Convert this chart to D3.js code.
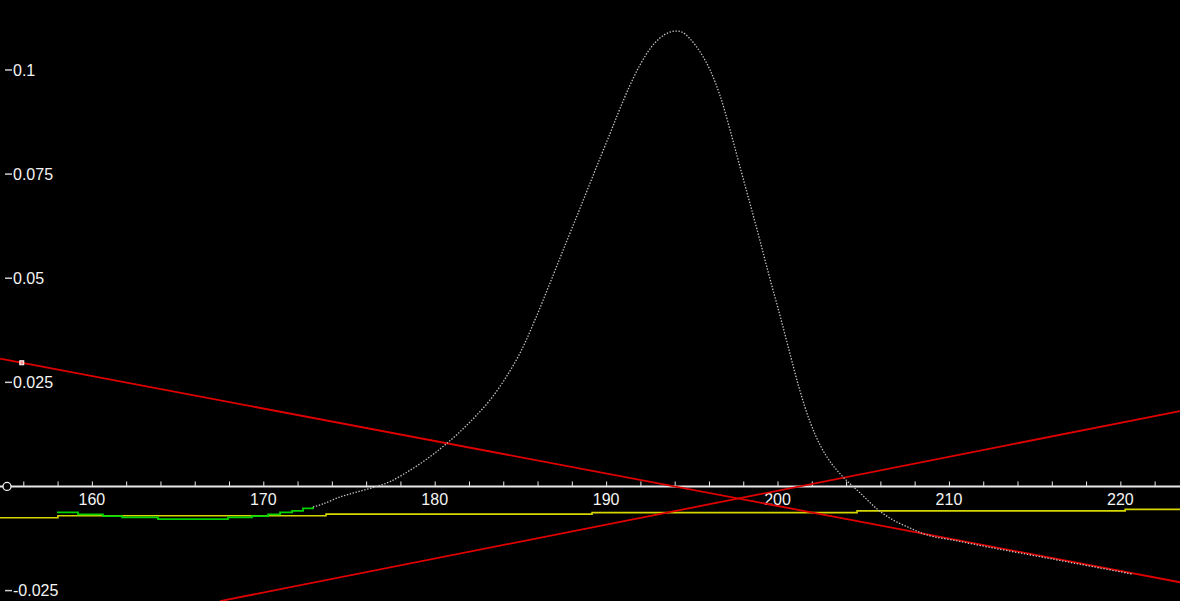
<!DOCTYPE html>
<html>
<head>
<meta charset="utf-8">
<script src="https://cdn.jsdelivr.net/npm/d3@7/dist/d3.min.js"></script>
<style>
  html, body { margin: 0; padding: 0; background: #000; }
  svg { display: block; }
  text { font-family: "Liberation Sans", Arial, sans-serif; font-size: 16px; fill: #f4f4f4; }
</style>
</head>
<body>
<svg id="chart" width="1180" height="601"></svg>
<script>
// Visible window of the trace
const xDomain = [154.64, 223.48];
const yDomain = [-0.0275, 0.1168];

// Axis ticks
const xTickValues = [156, 158, 160, 162, 164, 166, 168, 170, 172, 174, 176, 178, 180, 182, 184, 186, 188, 190,
                     192, 194, 196, 198, 200, 202, 204, 206, 208, 210, 212, 214, 216, 218, 220, 222];
const xTickLabels = [160, 170, 180, 190, 200, 210, 220];
const yTickValues = [0.1, 0.075, 0.05, 0.025, -0.025];
const yTickLabels = ["0.1", "0.075", "0.05", "0.025", "-0.025"];

// Peak signal (x, y)
const peakX = [172.90, 173.48, 174.48, 175.47, 176.52, 177.39, 178.56, 179.73, 180.60, 181.48, 182.35, 183.23,
               184.10, 184.98, 185.85, 186.73, 187.60, 188.48, 189.35, 190.23, 190.81, 191.40, 191.98, 192.56,
               193.15, 193.61, 194.02, 194.43, 194.90, 195.48, 196.06, 196.65, 197.23, 197.81, 198.40, 198.98,
               199.56, 200.15, 200.73, 201.31, 201.90, 202.48, 203.06, 203.82, 204.82, 205.81, 206.74, 207.73,
               208.72, 210.65, 212.57, 214.56, 216.48, 218.41, 220.68];
const peakY = [-0.00492, -0.00420, -0.00252, -0.00132, -0.00012, 0.00115, 0.00389, 0.00716, 0.00997, 0.01316,
               0.01669, 0.02077, 0.02582, 0.03206, 0.03999, 0.04887, 0.05785, 0.06681, 0.07579, 0.08477,
               0.09073, 0.09642, 0.10122, 0.10507, 0.10771, 0.10891, 0.10934, 0.10910, 0.10747, 0.10435,
               0.10002, 0.09378, 0.08561, 0.07673, 0.06784, 0.05896, 0.04983, 0.04095, 0.03182, 0.02293,
               0.01549, 0.00997, 0.00600, 0.00228, -0.00156, -0.00540, -0.00805, -0.00997, -0.01165,
               -0.01321, -0.01477, -0.01628, -0.01777, -0.01926, -0.02101];

// Highlighted leading segment (stepped)
const greenX = [157.97, 159.19, 160.65, 161.76, 163.86, 167.94, 169.34, 170.28, 170.98, 171.68, 172.32, 172.90];
const greenY = [-0.00622, -0.00670, -0.00711, -0.00742, -0.00783, -0.00742, -0.00711, -0.00670, -0.00622,
                -0.00584, -0.00526, -0.00492];

// Baseline (stepped)
const baseX = [154.64, 158.02, 173.66, 189.18, 204.64, 220.28, 223.48];
const baseY = [-0.00752, -0.00704, -0.00663, -0.00627, -0.00586, -0.00550, -0.00550];

// Tangent lines
const tangentDownX = [154.64, 223.48];
const tangentDownY = [0.0307, -0.0230];
const tangentUpX = [167.48, 223.48];
const tangentUpY = [-0.02752, 0.0181];

// Anchor point on the falling tangent
const anchorX = [155.91];
const anchorY = [0.0297];

const W = 1180, H = 601;
const svg = d3.select("#chart");
svg.append("rect").attr("width", W).attr("height", H).attr("fill", "#000");

const x = d3.scaleLinear().domain(xDomain).range([0, W]);
const y = d3.scaleLinear().domain(yDomain).range([H, 0]);

const zip = (xs, ys) => xs.map((v, i) => [v, ys[i]]);
const line = d3.line().x(d => x(d[0])).y(d => y(d[1]));
const smoothLine = d3.line().x(d => x(d[0])).y(d => y(d[1])).curve(d3.curveCatmullRom.alpha(0.5));
const stepLine = d3.line().x(d => x(d[0])).y(d => y(d[1])).curve(d3.curveStepAfter);

// X axis along zero
const xAxis = d3.axisTop(x)
  .tickValues(xTickValues)
  .tickSize(5)
  .tickFormat("");
const gx = svg.append("g").attr("transform", `translate(0,${y(0)})`).call(xAxis);
gx.select(".domain").remove();
gx.selectAll(".tick line").attr("stroke", "#e8e8e8").attr("stroke-width", 1);
svg.append("line")
  .attr("x1", 0).attr("x2", W)
  .attr("y1", y(0)).attr("y2", y(0))
  .attr("stroke", "#e8e8e8").attr("stroke-width", 2);

svg.append("g").selectAll("text")
  .data(xTickLabels)
  .join("text")
  .attr("x", d => x(d))
  .attr("y", y(0) + 19)
  .attr("text-anchor", "middle")
  .text(d => d);

// Y axis ticks on the left edge
const gy = svg.append("g");
gy.selectAll("line")
  .data(yTickValues)
  .join("line")
  .attr("x1", 5).attr("x2", 12)
  .attr("y1", d => y(d)).attr("y2", d => y(d))
  .attr("stroke", "#cfcfcf").attr("stroke-width", 1.5);
gy.selectAll("text")
  .data(yTickValues)
  .join("text")
  .attr("x", 13)
  .attr("y", d => y(d))
  .attr("dy", "0.36em")
  .text((d, i) => yTickLabels[i]);

// Origin marker
svg.append("circle")
  .attr("cx", 7).attr("cy", y(0)).attr("r", 4)
  .attr("fill", "#000").attr("stroke", "#f0f0f0").attr("stroke-width", 1.3);

// Baseline
svg.append("path")
  .datum(zip(baseX, baseY))
  .attr("d", stepLine)
  .attr("fill", "none").attr("stroke", "#d6d600").attr("stroke-width", 1.6);

// Highlighted segment
svg.append("path")
  .datum(zip(greenX, greenY))
  .attr("d", stepLine)
  .attr("fill", "none").attr("stroke", "#00d400").attr("stroke-width", 1.8);

// Tangents
[[tangentDownX, tangentDownY], [tangentUpX, tangentUpY]].forEach(([xs, ys]) => {
  svg.append("path")
    .datum(zip(xs, ys))
    .attr("d", line)
    .attr("fill", "none").attr("stroke", "#e00000").attr("stroke-width", 1.8);
});

// Peak signal, dotted trace
svg.append("path")
  .datum(zip(peakX, peakY))
  .attr("d", smoothLine)
  .attr("fill", "none").attr("stroke", "#c4c4c4").attr("stroke-width", 1.3)
  .attr("stroke-dasharray", "1.4 1.6");

// Anchor marker
svg.selectAll(".anchor")
  .data(zip(anchorX, anchorY))
  .join("rect")
  .attr("class", "anchor")
  .attr("x", d => x(d[0]) - 2).attr("y", d => y(d[1]) - 2)
  .attr("width", 4).attr("height", 4)
  .attr("fill", "#ff9090").attr("stroke", "#ffffff").attr("stroke-width", 1);
</script>
</body>
</html>
